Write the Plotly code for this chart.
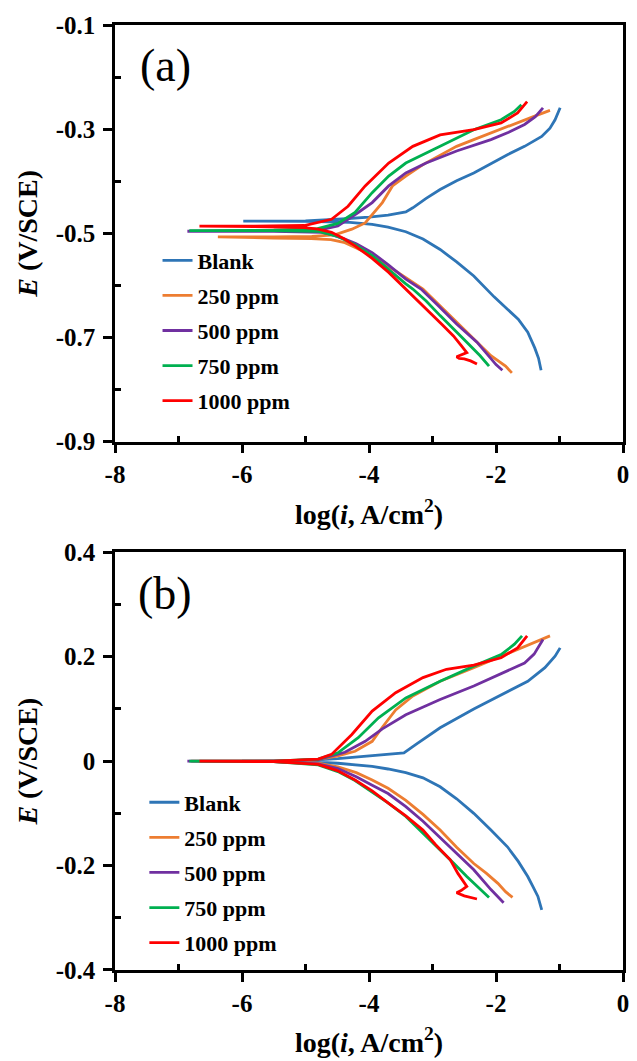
import plotly.graph_objects as go

SERIES = ["Blank", "250 ppm", "500 ppm", "750 ppm", "1000 ppm"]
COLORS = ["#2E75B6", "#ED7D31", "#7030A0", "#00B050", "#FF0000"]

X_TICKS = [-8, -6, -4, -2, 0]
A_Y_TICKS = [-0.9, -0.7, -0.5, -0.3, -0.1]
B_Y_TICKS = [-0.4, -0.2, 0, 0.2, 0.4]

# ---------- panel (a) ----------
A_BLANK_LOGI = [-1.29, -1.33, -1.39, -1.50, -1.65, -1.82, -2.03, -2.35, -2.62, -2.88, -3.15, -3.42, -3.70, -3.95, -4.30, -5.00, -5.98,
                -5.00, -4.49, -4.00, -3.70, -3.42, -3.31, -3.10, -2.88, -2.62, -2.35, -2.08, -1.82, -1.55, -1.28, -1.15, -1.07, -0.99]
A_BLANK_E = [-0.763, -0.740, -0.720, -0.690, -0.665, -0.645, -0.622, -0.582, -0.555, -0.531, -0.511, -0.497, -0.488, -0.483, -0.479, -0.477, -0.4765,
             -0.476, -0.473, -0.469, -0.465, -0.459, -0.451, -0.433, -0.416, -0.399, -0.384, -0.366, -0.349, -0.333, -0.314, -0.298, -0.282, -0.259]

A_250_LOGI = [-1.75, -1.85, -2.08, -2.35, -2.62, -2.88, -3.15, -3.42, -3.70, -3.95, -4.20, -4.38, -4.60, -4.91, -5.50, -6.38,
              -5.50, -4.90, -4.54, -4.27, -4.06, -3.95, -3.79, -3.63, -3.42, -3.15, -2.88, -2.62, -2.35, -2.08, -1.80, -1.55, -1.35, -1.15]
A_250_E = [-0.768, -0.755, -0.735, -0.703, -0.671, -0.640, -0.607, -0.585, -0.562, -0.543, -0.528, -0.518, -0.512, -0.510, -0.509, -0.507,
           -0.507, -0.506, -0.503, -0.492, -0.480, -0.464, -0.441, -0.409, -0.390, -0.368, -0.350, -0.333, -0.320, -0.307, -0.294, -0.282, -0.273, -0.264]

A_500_LOGI = [-1.90, -2.00, -2.30, -2.62, -2.90, -3.18, -3.42, -3.70, -3.95, -4.20, -4.38, -4.60, -4.75, -5.50, -6.86,
              -5.50, -4.75, -4.49, -4.17, -3.95, -3.69, -3.42, -3.10, -2.62, -2.08, -1.80, -1.55, -1.38, -1.26]
A_500_E = [-0.763, -0.752, -0.709, -0.674, -0.640, -0.607, -0.588, -0.560, -0.537, -0.520, -0.511, -0.502, -0.498, -0.496, -0.496,
           -0.495, -0.493, -0.486, -0.460, -0.441, -0.409, -0.384, -0.365, -0.342, -0.320, -0.306, -0.291, -0.276, -0.259]

A_750_LOGI = [-2.11, -2.25, -2.46, -2.67, -2.88, -3.10, -3.31, -3.42, -3.70, -3.95, -4.22, -4.49, -4.70, -4.81, -5.50, -6.83,
              -5.50, -4.81, -4.49, -4.22, -3.95, -3.69, -3.42, -2.88, -2.35, -1.92, -1.71, -1.60]
A_750_E = [-0.755, -0.735, -0.709, -0.684, -0.658, -0.630, -0.607, -0.597, -0.568, -0.543, -0.522, -0.506, -0.499, -0.496, -0.495, -0.495,
           -0.494, -0.491, -0.481, -0.460, -0.422, -0.390, -0.365, -0.333, -0.301, -0.282, -0.266, -0.253]

A_1000_LOGI = [-2.30, -2.40, -2.50, -2.58, -2.62, -2.55, -2.46, -2.55, -2.67, -2.85, -3.04, -3.26, -3.45, -3.69, -3.95, -4.22, -4.40, -4.59, -4.80, -5.02, -5.80, -6.67,
               -5.80, -5.02, -4.59, -4.33, -4.06, -3.69, -3.31, -2.88, -2.35, -1.92, -1.66, -1.51]
A_1000_E = [-0.751, -0.745, -0.741, -0.740, -0.737, -0.733, -0.729, -0.715, -0.697, -0.675, -0.652, -0.626, -0.604, -0.575, -0.548, -0.524, -0.510, -0.498, -0.492, -0.489, -0.487, -0.486,
            -0.486, -0.485, -0.473, -0.448, -0.409, -0.365, -0.333, -0.311, -0.301, -0.288, -0.269, -0.247]

# ---------- panel (b) ----------
B_BLANK_LOGI = [-1.28, -1.34, -1.42, -1.50, -1.65, -1.82, -2.08, -2.35, -2.62, -2.88, -3.15, -3.42, -3.70, -3.95, -4.49, -5.00, -6.00,
                -5.00, -4.49, -3.95, -3.45, -3.26, -2.88, -2.35, -1.82, -1.50, -1.23, -1.07, -0.99]
B_BLANK_E = [-0.285, -0.259, -0.240, -0.221, -0.192, -0.164, -0.132, -0.100, -0.072, -0.049, -0.032, -0.022, -0.015, -0.010, -0.004, -0.001, 0.000,
             0.001, 0.005, 0.010, 0.016, 0.032, 0.064, 0.100, 0.134, 0.153, 0.179, 0.201, 0.217]

B_250_LOGI = [-1.74, -1.85, -1.97, -2.15, -2.35, -2.62, -2.88, -3.15, -3.42, -3.70, -3.95, -4.20, -4.49, -4.80, -5.50, -6.80,
              -5.50, -4.81, -4.49, -4.22, -4.06, -3.95, -3.79, -3.58, -3.31, -2.88, -2.35, -1.82, -1.50, -1.28, -1.15]
B_250_E = [-0.261, -0.250, -0.234, -0.215, -0.196, -0.165, -0.132, -0.102, -0.075, -0.052, -0.036, -0.022, -0.011, -0.004, -0.001, 0.000,
           0.000, 0.003, 0.010, 0.019, 0.030, 0.038, 0.065, 0.098, 0.125, 0.153, 0.179, 0.206, 0.222, 0.233, 0.240]

B_500_LOGI = [-1.88, -2.08, -2.35, -2.62, -2.88, -3.15, -3.42, -3.70, -3.95, -4.20, -4.49, -4.80, -5.50, -6.86,
              -5.50, -4.80, -4.38, -4.06, -3.79, -3.42, -2.88, -2.35, -1.82, -1.55, -1.40, -1.26]
B_500_E = [-0.271, -0.246, -0.208, -0.176, -0.145, -0.115, -0.087, -0.062, -0.046, -0.030, -0.014, -0.005, -0.001, 0.000,
           0.000, 0.003, 0.017, 0.038, 0.062, 0.089, 0.118, 0.144, 0.173, 0.188, 0.205, 0.233]

B_750_LOGI = [-2.11, -2.25, -2.46, -2.67, -2.88, -3.15, -3.42, -3.70, -3.95, -4.22, -4.49, -4.80, -5.50, -6.83,
              -5.50, -4.80, -4.49, -4.17, -3.85, -3.42, -2.88, -2.35, -1.92, -1.71, -1.59]
B_750_E = [-0.261, -0.245, -0.221, -0.195, -0.170, -0.137, -0.106, -0.080, -0.059, -0.037, -0.020, -0.007, -0.001, 0.000,
           0.000, 0.004, 0.016, 0.045, 0.083, 0.121, 0.153, 0.182, 0.204, 0.224, 0.240]

B_1000_LOGI = [-2.30, -2.42, -2.50, -2.62, -2.55, -2.46, -2.60, -2.72, -2.95, -3.15, -3.42, -3.69, -3.95, -4.22, -4.50, -4.80, -5.50, -6.67,
               -5.50, -4.80, -4.59, -4.27, -3.95, -3.58, -3.15, -2.78, -2.35, -1.92, -1.66, -1.51]
B_1000_E = [-0.264, -0.260, -0.258, -0.252, -0.248, -0.240, -0.215, -0.189, -0.160, -0.132, -0.105, -0.081, -0.057, -0.036, -0.018, -0.006, -0.001, 0.000,
            0.000, 0.004, 0.013, 0.051, 0.096, 0.131, 0.160, 0.176, 0.184, 0.198, 0.217, 0.240]

A_DATA = [(A_BLANK_LOGI, A_BLANK_E), (A_250_LOGI, A_250_E), (A_500_LOGI, A_500_E), (A_750_LOGI, A_750_E), (A_1000_LOGI, A_1000_E)]
B_DATA = [(B_BLANK_LOGI, B_BLANK_E), (B_250_LOGI, B_250_E), (B_500_LOGI, B_500_E), (B_750_LOGI, B_750_E), (B_1000_LOGI, B_1000_E)]

FONT = "Liberation Serif"

fig = go.Figure()
for i, (name, col) in enumerate(zip(SERIES, COLORS)):
    xa, ya = A_DATA[i]
    fig.add_trace(go.Scatter(x=xa, y=ya, mode="lines", name=name, line=dict(color=col, width=2.8),
                             xaxis="x", yaxis="y", legend="legend", legendgroup="a%d" % i))
for i, (name, col) in enumerate(zip(SERIES, COLORS)):
    xb, yb = B_DATA[i]
    fig.add_trace(go.Scatter(x=xb, y=yb, mode="lines", name=name, line=dict(color=col, width=2.8),
                             xaxis="x2", yaxis="y2", legend="legend2", legendgroup="b%d" % i))

tickfont = dict(family=FONT, size=25, color="black", weight="bold")
titlefont = dict(family=FONT, size=28, color="black", weight="bold")

def xax(anchor):
    return dict(range=[-8, 0], tickvals=X_TICKS, ticktext=[str(v) for v in X_TICKS], domain=[0, 1], anchor=anchor,
                showline=True, linecolor="black", linewidth=2.5, mirror=True,
                ticks="outside", ticklen=9, tickwidth=2.5, tickcolor="black",
                minor=dict(tickvals=[-7, -5, -3, -1], ticks="inside", ticklen=6, tickwidth=2.5, tickcolor="black"),
                showgrid=False, zeroline=False, tickfont=tickfont, ticklabelstandoff=0,
                title=dict(text="log(<i>i</i>, A/cm<sup>2</sup>)", font=titlefont, standoff=17))

def yax(anchor, rng, vals, minor, dom):
    return dict(range=rng, tickvals=vals, ticktext=[("%g" % v) for v in vals], domain=dom, anchor=anchor,
                showline=True, linecolor="black", linewidth=2.5, mirror=True,
                ticks="outside", ticklen=9, tickwidth=2.5, tickcolor="black",
                minor=dict(tickvals=minor, ticks="inside", ticklen=6, tickwidth=2.5, tickcolor="black"),
                showgrid=False, zeroline=False, tickfont=tickfont, ticklabelstandoff=3,
                title=dict(text="<i>E</i> (V/SCE)", font=titlefont, standoff=10))

legfont = dict(family=FONT, size=22, color="black", weight="bold")

fig.update_layout(
    width=637, height=1061,
    margin=dict(l=115, r=8, t=25, b=88),
    paper_bgcolor="white", plot_bgcolor="white",
    xaxis=xax("y"),
    yaxis=yax("x", [-0.9, -0.1], A_Y_TICKS, [-0.8, -0.6, -0.4, -0.2], [0.5591, 1.0]),
    xaxis2=xax("y2"),
    yaxis2=yax("x2", [-0.4, 0.4], B_Y_TICKS, [-0.3, -0.1, 0.1, 0.3], [0.0, 0.44198]),
    legend=dict(x=0.0837, y=0.773, xanchor="left", yanchor="top", font=legfont, bgcolor="rgba(0,0,0,0)",
                tracegroupgap=3.5, traceorder="grouped"),
    legend2=dict(x=0.0578, y=0.1995, xanchor="left", yanchor="top", font=legfont, bgcolor="rgba(0,0,0,0)",
                 tracegroupgap=3.5, traceorder="grouped"),
    annotations=[
        dict(text="(a)", x=0.0986, y=0.9568, xref="paper", yref="paper", showarrow=False,
             font=dict(family=FONT, size=46, color="black"), xanchor="center", yanchor="middle"),
        dict(text="(b)", x=0.0986, y=0.3987, xref="paper", yref="paper", showarrow=False,
             font=dict(family=FONT, size=46, color="black"), xanchor="center", yanchor="middle"),
    ],
)

# remove the default 8px body margin so the figure sits at the page origin
fig.write_html("out.html", config={"displayModeBar": False},
               post_script="document.body.style.margin='0';document.body.style.overflow='hidden';")
